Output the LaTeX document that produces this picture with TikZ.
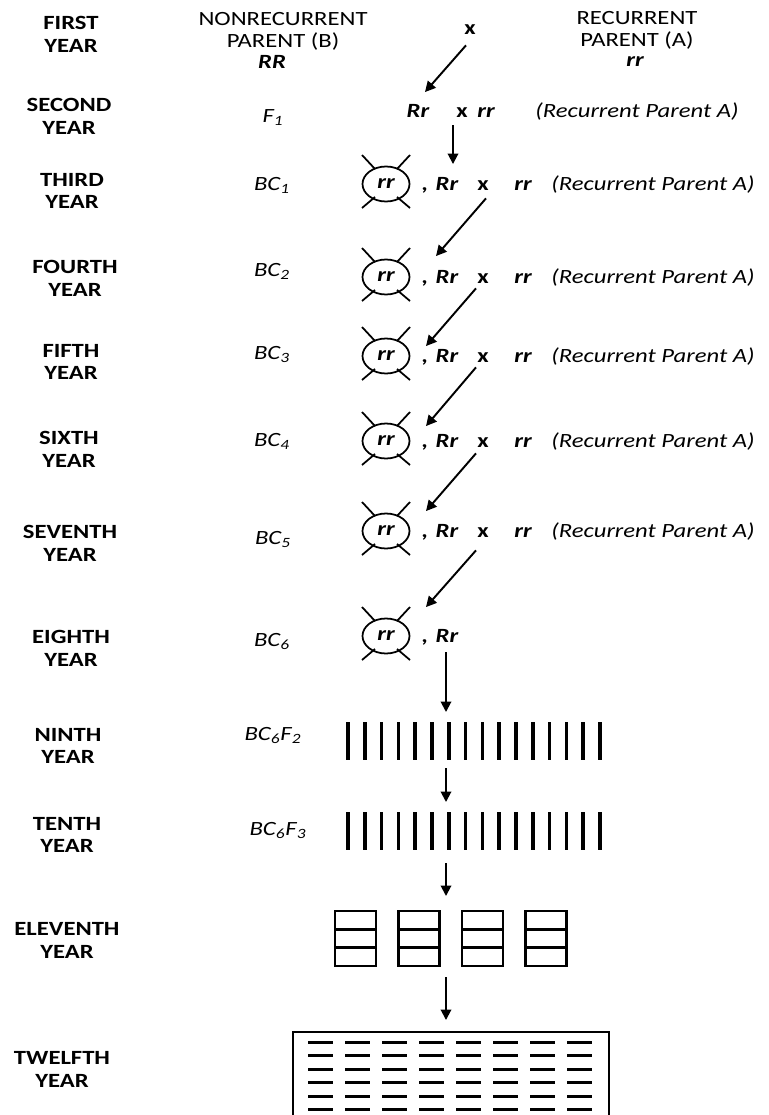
\documentclass[tikz,border=0pt]{standalone}
\usepackage{fontspec}
\setmainfont{Carlito}[FakeStretch=1.22]
\usetikzlibrary{arrows.meta,calc,shapes.geometric}

\begin{document}
\begin{tikzpicture}[x=0.02cm,y=-0.02cm,
  year/.style={font=\fontsize{11.5}{13}\selectfont\bfseries, align=center},
  head/.style={font=\fontsize{11.5}{12.5}\selectfont, align=center, inner sep=0pt},
  gen/.style={font=\fontsize{11.5}{13}\selectfont\itshape, inner sep=0pt, anchor=base},
  geno/.style={font=\fontsize{11.5}{13}\selectfont\bfseries\itshape, inner sep=0pt, anchor=base},
  cross/.style={font=\fontsize{11.5}{13}\selectfont\bfseries, inner sep=0pt, anchor=base},
  note/.style={font=\fontsize{11.5}{13}\selectfont\itshape, inner sep=0pt, anchor=base west},
  sel/.style={ellipse, draw, line width=1pt, minimum width=0.94cm, minimum height=0.7cm,
    inner sep=0pt, font=\fontsize{11.5}{13}\selectfont\bfseries\itshape},
  tick/.style={line width=1pt},
  arr/.style={-{Triangle[length=2.1mm,width=2.1mm]}, line width=1.1pt},
  bar/.style={line width=2pt},
  box/.style={draw, line width=1.6pt, inner sep=0pt, outer sep=0pt},
  group/.style={inner sep=0pt, outer sep=0pt},
  bit/.style={line width=1.7pt}
]
\useasboundingbox (0,0) rectangle (768,1115);

% year column
\foreach \t/\xx/\yy [count=\i] in {FIRST/71/34.5, SECOND/69/116, THIRD/72/191,
    FOURTH/75/278, FIFTH/71/362, SIXTH/69/449.5, SEVENTH/70/543, EIGHTH/71/648,
    NINTH/68/746, TENTH/67/835, ELEVENTH/67/940.5, TWELFTH/62/1069.5}
  \node[year] (y\i) at (\xx,\yy) {\t\\YEAR};

% parents
\node[head] (hB) at (283,31) {NONRECURRENT\\PARENT (B)};
\node[geno] (RR) at (272,69) {RR};
\node[head] (hA) at (637,30) {RECURRENT\\PARENT (A)};
\node[geno] (rr1) at (635,67) {rr};
\node[cross] (x1) at (470,34.5) {x};

% generations
\foreach \t/\xx/\yy [count=\i] in {F\textsubscript{1}/273/122, BC\textsubscript{1}/272/190,
    BC\textsubscript{2}/272/276, BC\textsubscript{3}/272/359, BC\textsubscript{4}/272/446,
    BC\textsubscript{5}/273/544, BC\textsubscript{6}/272/646,
    BC\textsubscript{6}F\textsubscript{2}/273/740, BC\textsubscript{6}F\textsubscript{3}/278/835}
  \node[gen] (g\i) at (\xx,\yy) {\t};

% second year cross
\node[geno] (Rr2) at (418,117) {Rr};
\node[cross] (x2) at (462,117) {x};
\node[geno] (rr2) at (486,117) {rr};
\node[note] (n2) at (535,117) {(Recurrent Parent A)};

% backcross rows
\foreach \n/\b in {3/190,4/283,5/362,6/447,7/537} {
  \node[sel] (o\n) at (386,\b-6) {rr};
  \node[geno] (c\n) at (425,\b) {,};
  \node[geno] (Rr\n) at (447,\b) {Rr};
  \node[cross] (x\n) at (483,\b) {x};
  \node[geno] (rr\n) at (523,\b) {rr};
  \node[note] (n\n) at (551,\b) {(Recurrent Parent A)};
}
\node[sel] (o8) at (386,636) {rr};
\node[geno] (c8) at (425,642) {,};
\node[geno] (Rr8) at (447,642) {Rr};

% discarded rr plants
\foreach \n in {3,...,8}
  \foreach \s in {-1,1} {
    \draw[tick] ($(o\n)+(11*\s,-15)$) -- ++(13*\s,-14);
    \draw[tick] ($(o\n)+(11*\s,13)$) -- ++(13*\s,11);
  }

% crossing arrows
\draw[arr] ($(x1.south)+(-4,10.5)$) -- ($(Rr2.north)+(7,-11.5)$);
\draw[arr] ($(x2.south)+(-9,8)$) -- ($(Rr3.north)+(6,-12.5)$);
\foreach \a/\b/\sx/\sy/\ex/\ey in {3/4/3/8/-11/-13.5, 4/5/-7/5/-21/-2.5,
    5/6/-7/5/-21/-7.5, 6/7/-7/6/-21/-12.5, 7/8/-7/13/-21/-21.5}
  \draw[arr] ($(x\a.south)+(\sx,\sy)$) -- ($(Rr\b.north)+(\ex,\ey)$);

% F2 and F3 rows
\node[group, minimum width=5.04cm, minimum height=0.76cm] (F2) at (474,741) {};
\node[group, minimum width=5.04cm, minimum height=0.76cm] (F3) at (474,831) {};
\foreach \k in {0,...,15} {
  \draw[bar] ($(F2.north west)+(16.8*\k,0)$) -- ($(F2.south west)+(16.8*\k,0)$);
  \draw[bar] ($(F3.north west)+(16.8*\k,0)$) -- ($(F3.south west)+(16.8*\k,0)$);
}

% eleventh year plots
\foreach \k in {1,...,4} {
  \node[box, minimum width=0.82cm, minimum height=1.1cm] (p\k) at (292+63.5*\k,938.5) {};
  \draw[line width=1.6pt] ($(p\k.north west)!1/3!(p\k.south west)$) -- ($(p\k.north east)!1/3!(p\k.south east)$);
  \draw[line width=1.6pt] ($(p\k.north west)!2/3!(p\k.south west)$) -- ($(p\k.north east)!2/3!(p\k.south east)$);
}

% twelfth year field
\node[box, minimum width=6.32cm, minimum height=2.6cm] (field) at (451,1097) {};
\foreach \r in {0,...,5}
  \foreach \c in {0,...,7}
    \draw[bit] ($(field.north west)+(15+37*\c,10+13.5*\r)$) -- ++(25,0);

% selfing arrows
\draw[arr] ($(Rr8.south)+(-1,10)$) -- ($(F2.north)+(-28,-10)$);
\draw[arr] ($(F2.south)+(-28,8)$) -- ($(F3.north)+(-28,-10)$);
\draw[arr] ($(F3.south)+(-28,13)$) -- ($(F3.south |- p1.north)+(-28,-15)$);
\draw[arr] ($(F3.south |- p1.south)+(-28,11)$) -- ($(field.north)+(-5,-12)$);
\end{tikzpicture}
\end{document}
